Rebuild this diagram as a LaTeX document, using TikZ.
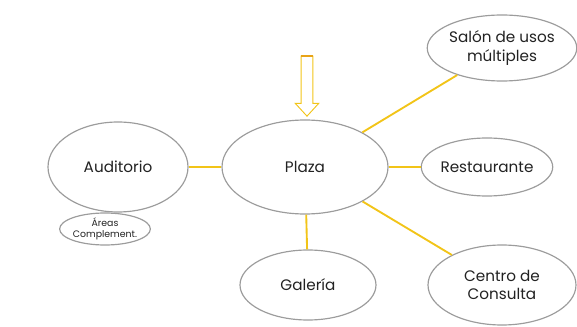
\documentclass[tikz,border=0pt]{standalone}
\usepackage{fontspec}
\setmainfont{Poppins}
\usetikzlibrary{shapes.geometric,shapes.arrows}
\definecolor{linkcol}{HTML}{F2C418}
\definecolor{rimcol}{HTML}{9C9C9C}
\definecolor{textcol}{HTML}{222222}
\definecolor{tailcol}{HTML}{E8A317}
\tikzset{
  area/.style={ellipse, draw=rimcol, line width=1pt, fill=white, text=textcol, align=center, inner sep=0pt, font=\fontsize{13}{15.5}\selectfont},
  link/.style={draw=linkcol, line width=1.6pt}
}
\begin{document}
\begin{tikzpicture}
        \useasboundingbox (0,0) rectangle (17.31,9.78);
        % main hub
        \node[area, minimum width=4.98cm, minimum height=2.82cm] (plaza) at (9.15,4.77) {Plaza};
        % left side
        \node[area, minimum width=4.2cm, minimum height=2.7cm] (auditorio) at (3.54,4.77) {Auditorio};
        \node[area, minimum width=2.58cm, minimum height=0.96cm, font=\fontsize{8}{9}\selectfont] (complement) at (3.15,2.91) {Áreas\\Complement.};
        % right side
        \node[area, minimum width=4.44cm, minimum height=1.98cm] (salon) at (15.06,8.34) {Salón de usos\\múltiples};
        \node[area, minimum width=3.84cm, minimum height=1.74cm] (restaurante) at (14.61,4.77) {Restaurante};
        \node[area, minimum width=4.44cm, minimum height=2.4cm] (centro) at (15.06,1.23) {Centro de\\Consulta};
        % bottom
        \node[area, minimum width=4.08cm, minimum height=2.1cm] (galeria) at (9.24,1.23) {Galería};
        % entrance arrow
        \node[single arrow, draw=linkcol, line width=0.8pt, rotate=-90, minimum height=1.8cm, inner sep=0.16cm, single arrow head extend=0.18cm, single arrow tip angle=85] (entrada) at (9.21,7.29) {};
        \draw[tailcol, line width=2pt] (entrada.before tail) -- (entrada.after tail);
        % links
        \draw[link] (auditorio) -- (plaza);
        \draw[link] (plaza) -- (restaurante);
        \draw[link] (plaza) -- (galeria);
        \draw[link] (plaza) -- (salon);
        \draw[link] (plaza) -- (centro);
    \end{tikzpicture}
\end{document}
